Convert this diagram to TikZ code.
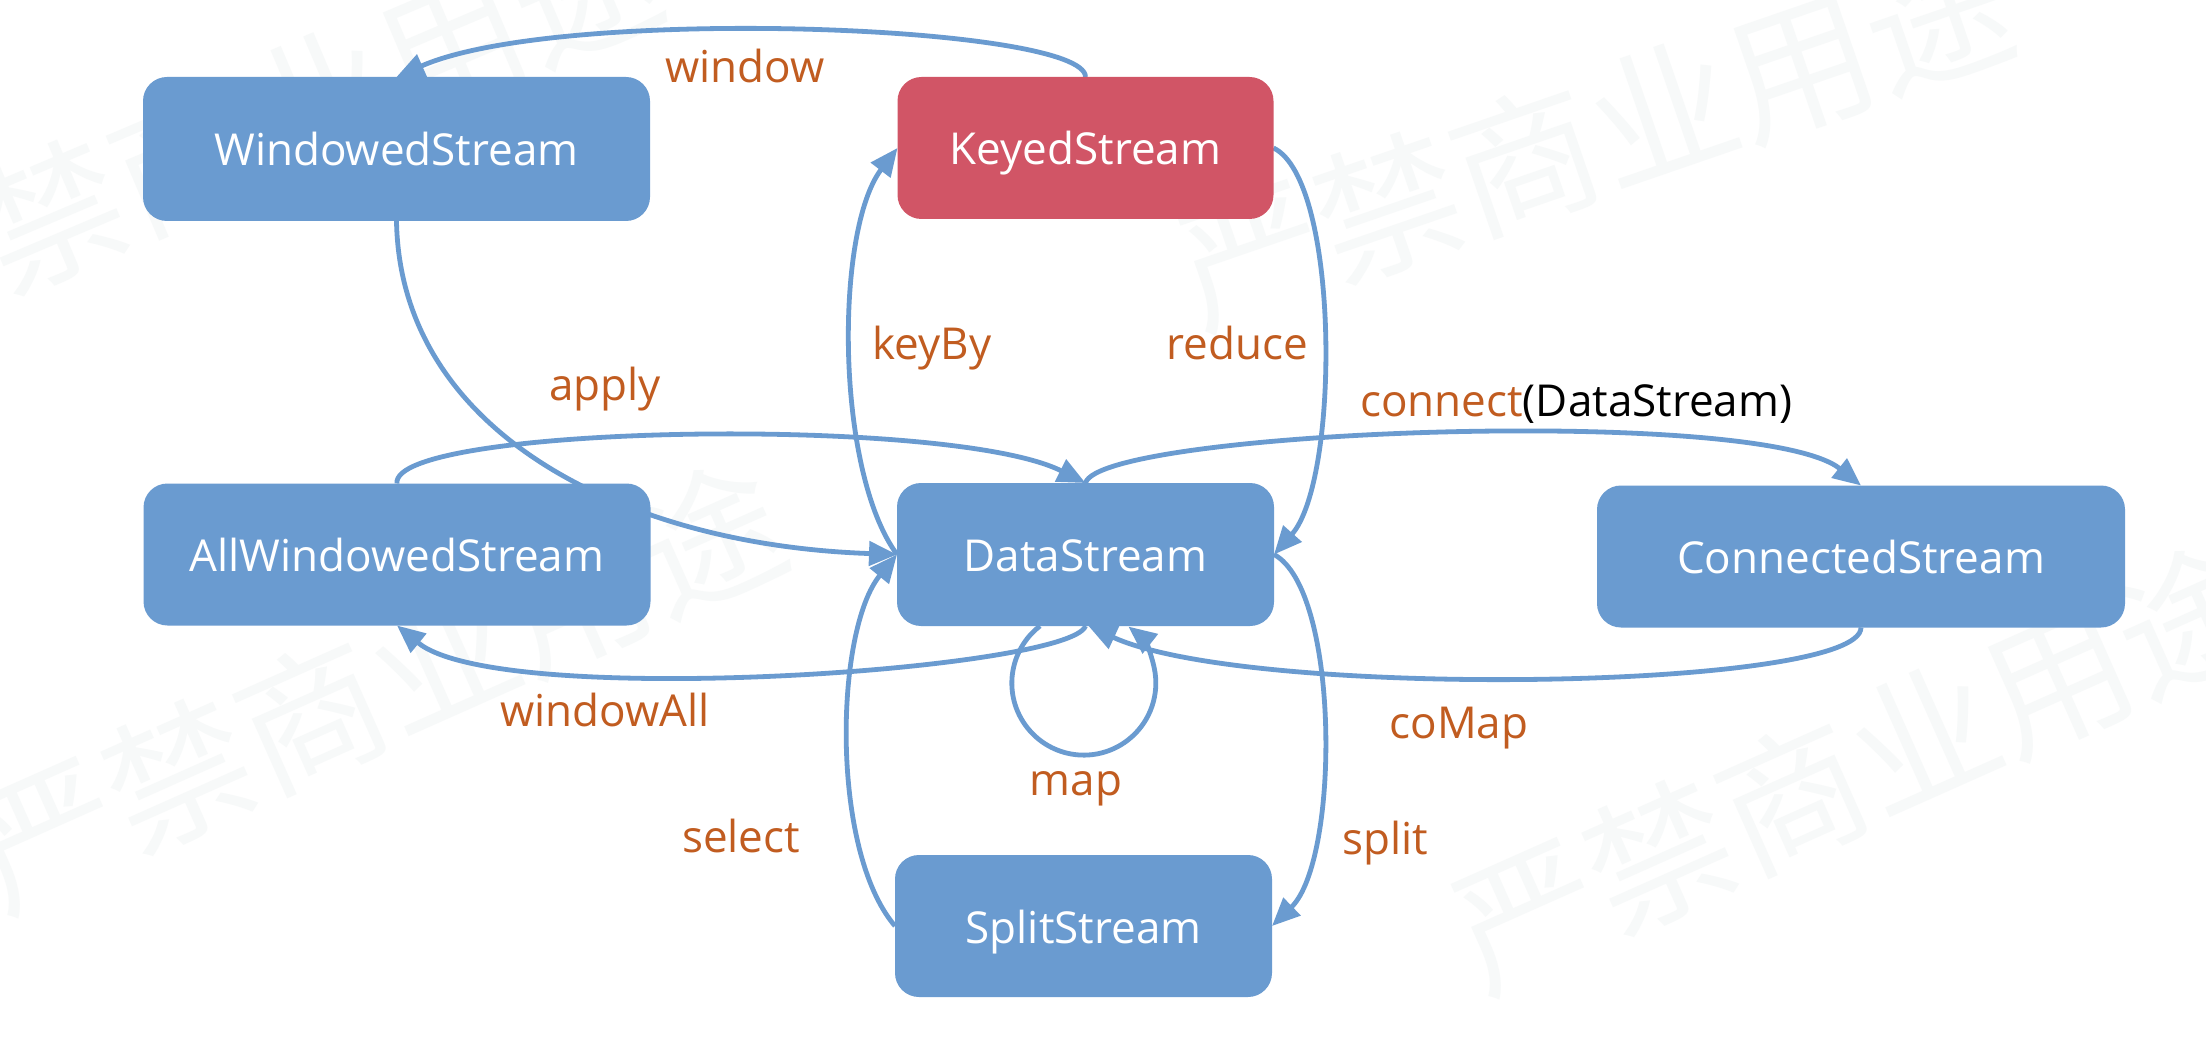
\documentclass[tikz,border=0pt]{standalone}
\usepackage{fontspec}
\setmainfont{Open Sans}
\newfontfamily\cjk{Noto Sans CJK SC}
\usetikzlibrary{arrows.meta}
\definecolor{boxblue}{RGB}{106,155,208}
\definecolor{keyred}{RGB}{209,85,102}
\definecolor{lblorange}{RGB}{193,92,32}
\definecolor{wmark}{RGB}{247,249,249}
\pgfdeclarelayer{wmlayer}
\pgfdeclarelayer{edgelayer}
\pgfsetlayers{wmlayer,edgelayer,main}
\tikzset{
  box/.style={rectangle, rounded corners=24pt, fill=boxblue, text=white,
    inner sep=0pt, outer sep=0pt, text height=34pt, text depth=0pt,
    font=\fontsize{44}{50}\selectfont},
  lbl/.style={text=lblorange, font=\fontsize{44}{50}\selectfont, inner sep=0pt, anchor=base},
  conn/.style={draw=boxblue, line width=4.8pt, -{Triangle[length=28pt,width=24pt]}},
  wm/.style={text=wmark, font=\cjk\fontsize{145}{145}\selectfont, inner sep=0pt}
}
\begin{document}
\begin{tikzpicture}[x=1pt,y=-1pt]
\useasboundingbox (0,0) rectangle (2206,1064);

\begin{pgfonlayer}{wmlayer}
\fill[white] (0,0) rectangle (2206,1064);
\node[wm, rotate=23] (wmA) at (251,130) {严禁商业用途};
\node[wm, rotate=19] (wmB) at (1594,136) {严禁商业用途};
\node[wm, rotate=24] (wmC) at (377,686) {严禁商业用途};
\node[wm, rotate=24] (wmD) at (1858,767) {严禁商业用途};
\end{pgfonlayer}

\node[box, minimum width=507pt, minimum height=144pt] (W) at (396.5,149) {WindowedStream};
\node[box, fill=keyred, minimum width=376pt, minimum height=142pt] (K) at (1085.5,148) {KeyedStream};
\node[box, minimum width=507pt, minimum height=142pt] (AW) at (397,554.5) {AllWindowedStream};
\node[box, minimum width=377pt, minimum height=143pt] (D) at (1085.5,554.5) {DataStream};
\node[box, minimum width=528pt, minimum height=142pt] (C) at (1861,556.5) {ConnectedStream};
\node[box, minimum width=377pt, minimum height=142pt] (S) at (1083.5,926) {SplitStream};

\begin{pgfonlayer}{edgelayer}
\draw[conn] (K.north) .. controls (1085,25) and (560,5) .. (W.north);
\draw[conn] (W.south) .. controls (400,430) and (620,545) .. (D.west);
\draw[conn] (AW.north) .. controls (390,425) and (950,415) .. (D.north);
\draw[conn] (D.west) .. controls (835,470) and (835,230) .. (K.west);
\draw[conn] (K.east) .. controls (1340,180) and (1340,480) .. (D.east);
\draw[conn] (D.east) .. controls (1340,590) and (1340,860) .. (S.east);
\draw[conn] (S.west) .. controls (830,850) and (835,630) .. (D.west);
\draw[conn] (D.north) .. controls (1100,430) and (1760,405) .. (C.north);
\draw[conn] (C.south) .. controls (1861,690) and (1250,700) .. ([xshift=3pt]D.south);
\draw[conn] (D.south) .. controls (1070,670) and (500,710) .. (AW.south);
\draw[conn] ([xshift=-45.5pt]D.south) arc[start angle=232.5, end angle=-51.8, radius=72];
\end{pgfonlayer}

\node[lbl] (lwindow) at (745,83) {window};
\node[lbl] (lapply) at (605,400) {apply};
\node[lbl] (lkeyby) at (932,360) {keyBy};
\node[lbl] (lreduce) at (1237,360) {reduce};
\node[lbl, anchor=base west] (lconnect) at (1360,417) {connect\textcolor{black}{(DataStream)}};
\node[lbl] (lwindowall) at (605,726) {windowAll};
\node[lbl] (lmap) at (1076,795) {map};
\node[lbl] (lcomap) at (1459,738) {coMap};
\node[lbl] (lselect) at (741,852) {select};
\node[lbl] (lsplit) at (1385,854) {split};
\end{tikzpicture}
\end{document}
